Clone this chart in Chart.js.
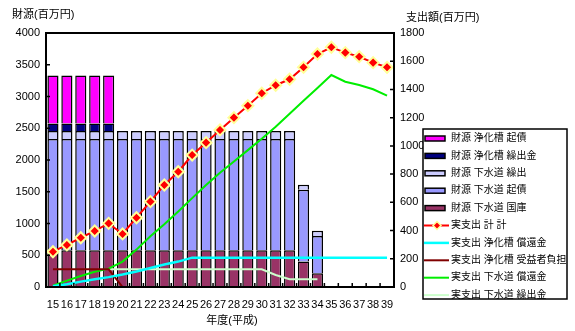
<!DOCTYPE html>
<html>
<head>
<meta charset="utf-8">
<script src="https://cdn.jsdelivr.net/npm/chart.js@4.4.0/dist/chart.umd.min.js"></script>
<style>
  html, body { margin: 0; padding: 0; background: #fff; }
  #wrap { width: 575px; height: 331px; }
</style>
</head>
<body>
<div id="wrap"><canvas id="chartjs-0" width="575" height="331"></canvas></div>
<script>
"use strict";

// 年度(平成)
var years = ["15","16","17","18","19","20","21","22","23","24","25","26","27",
  "28","29","30","31","32","33","34","35","36","37","38","39"];

// 財源 (left axis, 百万円)
var kokko      = [580,580,580,580,580,580,580,580,580,580,580,580,580,580,580,580,580,580,400,215,null,null,null,null,null];
var gesuiKisai = [1750,1750,1750,1750,1750,1750,1750,1750,1750,1750,1750,1750,1750,1750,1750,1750,1750,1750,1130,590,null,null,null,null,null];
var gesuiKuri  = [125,125,125,125,125,125,125,125,125,125,125,125,125,125,125,125,125,125,80,80,null,null,null,null,null];
var jokaKuri   = [120,120,120,120,120,null,null,null,null,null,null,null,null,null,null,null,null,null,null,null,null,null,null,null,null];
var jokaKisai  = [755,755,755,755,755,null,null,null,null,null,null,null,null,null,null,null,null,null,null,null,null,null,null,null,null];

// 実支出 (right axis, 百万円)
var total      = [250,298,349,397,451,376,491,605,723,817,935,1023,1113,1200,1285,1373,1430,1472,1557,1651,1699,1661,1632,1590,1557];
var jokaShokan = [5,20,38,55,70,88,110,135,160,180,208,208,208,208,208,208,208,208,208,208,208,208,208,208,208];
var jokaJueki  = [125,125,125,125,125,0,0,0,0,0,0,0,0,0,0,0,0,0,0,0,null,null,null,null,null];
var gesuiShokan= [10,45,78,108,130,180,265,360,445,535,630,723,810,890,970,1050,1135,1228,1320,1411,1502,1455,1432,1401,1356];
var gesuiKuriOut = [null,null,null,null,125,125,125,125,125,125,125,125,125,125,125,125,85,55,55,55,null,null,null,null,null];

var leftTicks = [0,500,1000,1500,2000,2500,3000,3500,4000];
var rightTicks = [0,200,400,600,800,1000,1200,1400,1600,1800];

var FONT = "'Liberation Sans', 'Noto Sans CJK JP', Arial, sans-serif";
var NUMFONT = "'Liberation Sans Narrow', 'Liberation Sans', Arial, sans-serif";

function barSet(label, data, color) {
  return {
    type: "bar", label: label, data: data, yAxisID: "y", stack: "s",
    backgroundColor: color, borderColor: "#000000", borderWidth: 1.5,
    barPercentage: 0.8, categoryPercentage: 1.0, order: 2
  };
}

function lineSet(label, data, color, width) {
  return {
    type: "line", label: label, data: data, yAxisID: "y1",
    borderColor: color, backgroundColor: color, borderWidth: width,
    pointRadius: 0, tension: 0, fill: false, spanGaps: false, order: 1
  };
}

var totalLine = lineSet("実支出 計 計", total, "#FF0000", 2);
totalLine.pointStyle = "rectRot";
totalLine.pointRadius = 5.5;
totalLine.pointBackgroundColor = "#FF0000";
totalLine.pointBorderColor = "#FFFF99";
totalLine.pointBorderWidth = 2;
totalLine.order = 0;

var datasets = [
  barSet("財源 下水道 国庫", kokko, "#993366"),
  barSet("財源 下水道 起債", gesuiKisai, "#9999FF"),
  barSet("財源 下水道 繰出", gesuiKuri, "#CCCCFF"),
  barSet("財源 浄化槽 繰出金", jokaKuri, "#000080"),
  barSet("財源 浄化槽 起債", jokaKisai, "#FF00FF"),
  totalLine,
  lineSet("実支出 浄化槽 償還金", jokaShokan, "#00FFFF", 2.5),
  lineSet("実支出 浄化槽 受益者負担", jokaJueki, "#800000", 2),
  lineSet("実支出 下水道 償還金", gesuiShokan, "#00EE00", 2),
  lineSet("実支出 下水道 繰出金", gesuiKuriOut, "#CCFFCC", 2)
];

// legend order as in the picture
var legendOrder = [4, 3, 2, 1, 0, 5, 6, 7, 8, 9];

var extras = {
  id: "extras",
  afterDraw: function (chart) {
    var ctx = chart.ctx;
    var a = chart.chartArea;
    var x = chart.scales.x, y = chart.scales.y, y1 = chart.scales.y1;
    ctx.save();

    // frame
    ctx.strokeStyle = "#000";
    ctx.lineWidth = 2;
    ctx.strokeRect(a.left, a.top, a.right - a.left, a.bottom - a.top);

    // inside tick marks
    ctx.lineWidth = 1.5;
    ctx.beginPath();
    leftTicks.forEach(function (v) {
      var py = y.getPixelForValue(v);
      ctx.moveTo(a.left, py); ctx.lineTo(a.left + 4, py);
    });
    rightTicks.forEach(function (v) {
      var py = y1.getPixelForValue(v);
      ctx.moveTo(a.right, py); ctx.lineTo(a.right - 4, py);
    });
    for (var i = 0; i < years.length - 1; i++) {
      var px = (x.getPixelForValue(i) + x.getPixelForValue(i + 1)) / 2;
      ctx.moveTo(px, a.bottom); ctx.lineTo(px, a.bottom - 4);
    }
    ctx.stroke();

    // axis titles
    ctx.fillStyle = "#000";
    ctx.font = "11px " + FONT;
    ctx.textBaseline = "middle";
    ctx.textAlign = "left";
    ctx.fillText("財源(百万円)", 12, 15);
    ctx.fillText("支出額(百万円)", 406, 18);
    ctx.textAlign = "center";
    ctx.fillText("年度(平成)", 232, 321);

    // legend
    var lx = 423, ly = 129, lw = 144, lh = 170;
    ctx.fillStyle = "#fff";
    ctx.fillRect(lx, ly, lw, lh);
    ctx.strokeStyle = "#000";
    ctx.lineWidth = 1.5;
    ctx.strokeRect(lx, ly, lw, lh);
    ctx.textAlign = "left";
    legendOrder.forEach(function (di, k) {
      var ds = chart.data.datasets[di];
      var cy = 138.5 + k * 17.4;
      if (ds.type === "bar") {
        ctx.fillStyle = ds.backgroundColor;
        ctx.fillRect(425, cy - 2.5, 20, 5);
        ctx.strokeStyle = "#000";
        ctx.lineWidth = 1.5;
        ctx.strokeRect(425, cy - 2.5, 20, 5);
      } else {
        ctx.strokeStyle = ds.borderColor;
        ctx.lineWidth = ds.borderWidth;
        ctx.beginPath();
        ctx.moveTo(424, cy); ctx.lineTo(449, cy);
        ctx.stroke();
        if (ds.pointStyle === "rectRot") {
          ctx.fillStyle = "#FF0000";
          ctx.strokeStyle = "#FFFF99";
          ctx.lineWidth = 1.5;
          ctx.beginPath();
          ctx.moveTo(437, cy - 4); ctx.lineTo(441, cy);
          ctx.lineTo(437, cy + 4); ctx.lineTo(433, cy);
          ctx.closePath();
          ctx.fill(); ctx.stroke();
        }
      }
      ctx.fillStyle = "#000";
      ctx.font = "10px " + FONT;
      ctx.fillText(ds.label, 451, cy);
    });
    ctx.restore();
  }
};

function plain(v) { return String(v); }

var ctx0 = document.getElementById("chartjs-0");
var myChart = new Chart(ctx0, {
  type: "bar",
  data: { labels: years, datasets: datasets },
  options: {
    responsive: false,
    animation: false,
    maintainAspectRatio: false,
    layout: { padding: { top: 33, left: 0, right: 0, bottom: 0 } },
    plugins: { legend: { display: false }, tooltip: { enabled: false } },
    scales: {
      x: {
        stacked: true,
        grid: { display: true, drawOnChartArea: false, drawTicks: false },
        border: { display: true, color: "#000", width: 2 },
        ticks: { autoSkip: false, maxRotation: 0, padding: 11, color: "#000",
                 font: { family: NUMFONT, size: 11 } },
        afterFit: function (s) { s.height = 44; }
      },
      y: {
        position: "left", stacked: true, min: 0, max: 4000,
        grid: { display: true, drawOnChartArea: false, drawTicks: false },
        border: { display: true, color: "#000", width: 2 },
        ticks: { stepSize: 500, padding: 6, color: "#000", callback: plain,
                 font: { family: NUMFONT, size: 11 } },
        afterFit: function (s) { s.width = 46; }
      },
      y1: {
        position: "right", min: 0, max: 1800,
        grid: { display: true, drawOnChartArea: false, drawTicks: false },
        border: { display: true, color: "#000", width: 2 },
        ticks: { stepSize: 200, padding: 6, color: "#000", callback: plain,
                 font: { family: NUMFONT, size: 11 } },
        afterFit: function (s) { s.width = 181; }
      }
    }
  },
  plugins: [extras]
});
</script>
</body>
</html>
